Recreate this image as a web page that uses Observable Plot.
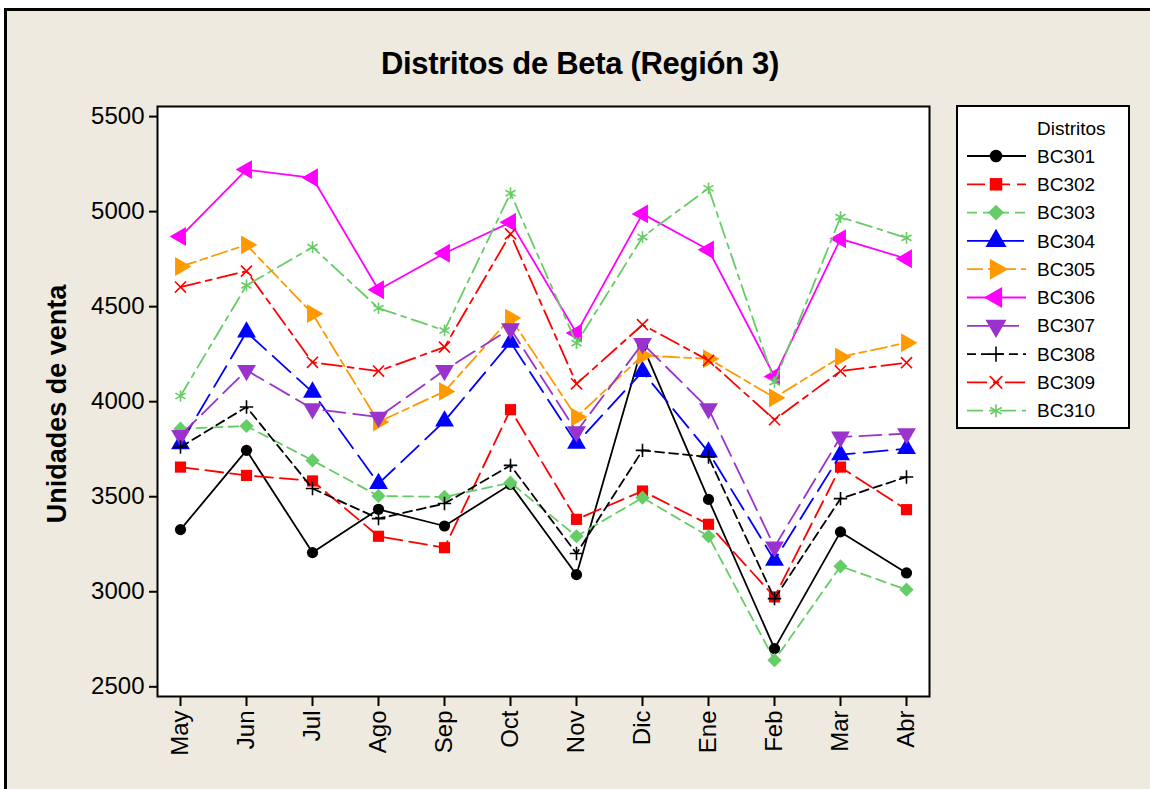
<!DOCTYPE html>
<html>
<head>
<meta charset="utf-8">
<script src="https://cdn.jsdelivr.net/npm/d3@7"></script>
<script src="https://cdn.jsdelivr.net/npm/@observablehq/plot@0.6"></script>
<style>
  html, body { margin: 0; padding: 0; background: white; }
  #root { position: relative; width: 1150px; height: 789px; overflow: hidden; font-family: "Liberation Sans", Arial, sans-serif; }
  #bg { position: absolute; left: 4px; top: 8px; right: -10px; bottom: -10px; background: #EEEAE0; border-top: 3px solid #000; border-left: 3px solid #000; }
  #chart { position: absolute; left: 0; top: 0; }
  #title { position: absolute; left: 0; width: 1160px; top: 46px; text-align: center; font-weight: bold; font-size: 31px; color: #000; letter-spacing: -0.3px; }
  #ylabel { position: absolute; left: 57px; top: 404px; transform: translate(-50%, -50%) rotate(-90deg); white-space: nowrap; font-weight: bold; font-size: 27px; color: #000; }
  #legend { position: absolute; left: 956px; top: 105px; }
</style>
</head>
<body>
<div id="root">
  <div id="bg"></div>
  <div id="title">Distritos de Beta (Región 3)</div>
  <div id="ylabel">Unidades de venta</div>
  <div id="chart"></div>
  <div id="legend"></div>
</div>
<script>
// ---- data ----
const months = ["May","Jun","Jul","Ago","Sep","Oct","Nov","Dic","Ene","Feb","Mar","Abr"];
const seriesNames = ["BC301","BC302","BC303","BC304","BC305","BC306","BC307","BC308","BC309","BC310"];
const BC301 = [3327, 3744, 3206, 3434, 3346, 3565, 3090, 4296, 3486, 2701, 3315, 3099];
const BC302 = [3656, 3612, 3583, 3292, 3232, 3958, 3381, 3530, 3355, 2973, 3656, 3432];
const BC303 = [3858, 3872, 3691, 3504, 3499, 3574, 3292, 3495, 3292, 2640, 3134, 3011];
const BC304 = [3779, 4366, 4050, 3569, 3898, 4313, 3781, 4158, 3735, 3166, 3721, 3753];
const BC305 = [4711, 4825, 4463, 3893, 4054, 4440, 3919, 4243, 4226, 4021, 4235, 4310];
const BC306 = [4869, 5221, 5178, 4589, 4781, 4944, 4361, 4988, 4799, 4133, 4857, 4752];
const BC307 = [3823, 4165, 3963, 3919, 4165, 4384, 3842, 4306, 3963, 3236, 3814, 3832];
const BC308 = [3761, 3972, 3543, 3385, 3464, 3665, 3201, 3744, 3709, 2964, 3490, 3604];
const BC309 = [4603, 4687, 4207, 4161, 4287, 4883, 4094, 4405, 4217, 3905, 4161, 4205];
const BC310 = [4030, 4612, 4813, 4492, 4375, 5097, 4308, 4866, 5123, 4103, 4971, 4862];
const yTicks = [2500, 3000, 3500, 4000, 4500, 5000, 5500];
const legendTitle = "Distritos";
const seriesValues = [BC301, BC302, BC303, BC304, BC305, BC306, BC307, BC308, BC309, BC310];

// ---- styles ----
function tri(angle) {
  return {
    draw(ctx, size) {
      const y = -Math.sqrt(size / (Math.sqrt(3) * 3));
      const pts = [[0, 2 * y], [-Math.sqrt(3) * y, -y], [Math.sqrt(3) * y, -y]];
      const a = angle * Math.PI / 180, c = Math.cos(a), s = Math.sin(a);
      pts.forEach(([px, py], i) => {
        const X = px * c - py * s, Y = px * s + py * c;
        if (i) ctx.lineTo(X, Y); else ctx.moveTo(X, Y);
      });
      ctx.closePath();
    }
  };
}
const styles = [
  {color: "#000000", dash: null,          symbol: d3.symbolCircle,   r: 5.6, filled: true},
  {color: "#FF0000", dash: "18,7",        symbol: d3.symbolSquare,   r: 6.3, filled: true},
  {color: "#66CC66", dash: "10,6",        symbol: d3.symbolDiamond2, r: 6.4, filled: true},
  {color: "#0000FF", dash: "24,9",        symbol: tri(0),            r: 7.0, filled: true},
  {color: "#FF9900", dash: "16,5,7,5",    symbol: tri(90),           r: 7.0, filled: true},
  {color: "#FF00FF", dash: null,          symbol: tri(-90),          r: 7.0, filled: true},
  {color: "#9933CC", dash: "22,8",        symbol: tri(180),          r: 7.0, filled: true},
  {color: "#000000", dash: "9,5",         symbol: d3.symbolPlus,     r: 4.4, filled: false},
  {color: "#FF0000", dash: "20,6,6,6",    symbol: d3.symbolTimes,    r: 5.1, filled: false},
  {color: "#66CC66", dash: "16,6,5,6",    symbol: d3.symbolAsterisk, r: 5.5, filled: false}
];

// ---- chart ----
const marks = [Plot.frame({fill: "white"})];
seriesNames.forEach((name, k) => {
  const st = styles[k];
  const data = months.map((m, i) => ({month: m, value: seriesValues[k][i], series: name}));
  marks.push(Plot.line(data, {x: "month", y: "value", stroke: st.color, strokeWidth: 1.8, strokeDasharray: st.dash}));
  marks.push(Plot.dot(data, {
    x: "month", y: "value", symbol: st.symbol, r: st.r,
    fill: st.filled ? st.color : "none",
    stroke: st.filled ? "none" : st.color,
    strokeWidth: 1.6
  }));
});
marks.push(Plot.axisY({ticks: yTicks, tickFormat: d => String(d), tickSize: 8, tickPadding: 5, fontSize: 24, strokeWidth: 2, label: null}));
marks.push(Plot.axisX({tickRotate: -90, tickSize: 10, tickPadding: 4, fontSize: 24, strokeWidth: 2, label: null}));
marks.push(Plot.frame({stroke: "black", strokeWidth: 2}));

const chart = Plot.plot({
  width: 1150,
  height: 789,
  marginLeft: 157,
  marginTop: 106,
  marginRight: 221,
  marginBottom: 93,
  style: {background: "transparent", fontFamily: "Liberation Sans, Arial, sans-serif", color: "black", overflow: "visible"},
  x: {type: "point", domain: months, padding: 0.3},
  y: {domain: [2449, 5553]},
  marks
});
document.getElementById("chart").appendChild(chart);

// ---- legend ----
const lw = 174, lh = 324;
const lsvg = d3.select("#legend").append("svg").attr("width", lw).attr("height", lh)
  .style("font-family", "Liberation Sans, Arial, sans-serif");
lsvg.append("rect").attr("x", 1).attr("y", 1).attr("width", lw - 2).attr("height", lh - 2)
  .attr("fill", "white").attr("stroke", "black").attr("stroke-width", 2);
lsvg.append("text").attr("x", 81).attr("y", 23).attr("dy", "0.35em")
  .attr("font-size", 19).text(legendTitle);
seriesNames.forEach((name, k) => {
  const st = styles[k];
  const y = 51 + k * 28.3;
  const g = lsvg.append("g");
  g.append("line").attr("x1", 11).attr("x2", 70).attr("y1", y).attr("y2", y)
    .attr("stroke", st.color).attr("stroke-width", 1.8)
    .attr("stroke-dasharray", st.dash);
  const lr = st.r * 1.12;
  g.append("path").attr("transform", `translate(40,${y})`)
    .attr("d", d3.symbol().type(st.symbol).size(Math.PI * lr * lr)())
    .attr("fill", st.filled ? st.color : "none")
    .attr("stroke", st.filled ? "none" : st.color)
    .attr("stroke-width", 1.6);
  g.append("text").attr("x", 81).attr("y", y).attr("dy", "0.35em")
    .attr("font-size", 19).text(name);
});
</script>
</body>
</html>
